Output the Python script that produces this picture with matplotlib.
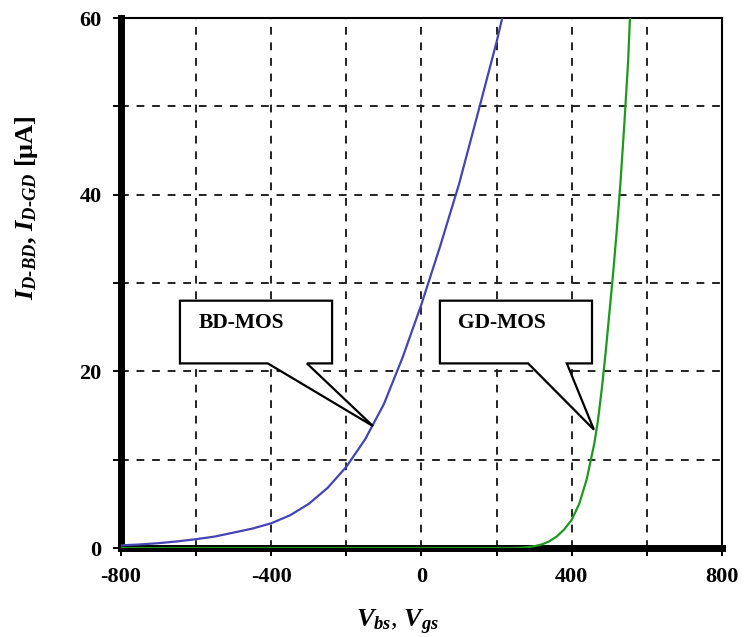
import matplotlib
matplotlib.use("Agg")
import matplotlib.pyplot as plt
from matplotlib.patches import Polygon

plt.rcParams['font.family'] = ['Liberation Serif', 'DejaVu Serif']
plt.rcParams['mathtext.fontset'] = 'custom'
plt.rcParams['mathtext.rm'] = 'Liberation Serif:bold'
plt.rcParams['mathtext.it'] = 'Liberation Serif:italic:bold'
plt.rcParams['mathtext.bf'] = 'Liberation Serif:bold'

# BD-MOS curve
bd_v = [-800, -750, -700, -650, -600, -550, -500, -450, -400, -350, -300, -250,
        -200, -150, -100, -50, 0, 50, 100, 150, 200, 215]
bd_i = [0.3, 0.4, 0.55, 0.75, 1.0, 1.3, 1.75, 2.2, 2.8, 3.7, 5.0, 6.8,
        9.2, 12.3, 16.3, 21.6, 27.6, 34.2, 41.2, 49.2, 57.3, 60.0]

# GD-MOS curve
gd_v = [-800, 240, 260, 280, 300, 320, 340, 360, 380, 400, 420, 440, 460, 470,
        480, 490, 500, 510, 520, 530, 540, 550, 555]
gd_i = [0.0, 0.0, 0.02, 0.08, 0.2, 0.4, 0.75, 1.3, 2.1, 3.2, 5.0, 7.8, 11.8, 14.5,
        18.0, 22.0, 26.5, 31.0, 36.0, 41.5, 48.0, 55.0, 60.0]

x_ticks = [-800, -600, -400, -200, 0, 200, 400, 600, 800]
x_labels = ['-800', '', '-400', '', '0', '', '400', '', '800']
y_ticks = [0, 10, 20, 30, 40, 50, 60]
y_labels = ['0', '', '20', '', '40', '', '60']

# callouts: label, box (x0, x1, y0, y1), wedge base x (left, right), tip (x, y)
callouts = [
    ('BD-MOS', (-643, -238, 20.9, 28.0), (-409, -305), (-129, 13.8)),
    ('GD-MOS', (49, 454, 20.9, 28.0), (284, 387), (459, 13.4)),
]

fig = plt.figure(figsize=(7.44, 6.37), dpi=100)
ax = fig.add_axes([0.1626, 0.1397, 0.8078, 0.832])

ax.plot(bd_v, bd_i, color='#4444b4', lw=1.6, zorder=3)
ax.plot(gd_v, gd_i, color='#1c9a1c', lw=1.6, zorder=3)

ax.set_xlim(-800, 800)
ax.set_ylim(0, 60)
ax.set_xticks(x_ticks)
ax.set_xticklabels(x_labels)
ax.set_yticks(y_ticks)
ax.set_yticklabels(y_labels)
ax.grid(True, color='#222222', linestyle=(0, (4, 4)), lw=1.4)
ax.set_axisbelow(True)

for lab in ax.get_xticklabels() + ax.get_yticklabels():
    lab.set_fontweight('bold')
    lab.set_fontsize(16)
ax.tick_params(axis='both', direction='out', length=6, width=1.4, color='black')
ax.tick_params(axis='x', pad=8)
ax.tick_params(axis='y', pad=8)

ax.spines['left'].set_linewidth(5)
ax.spines['bottom'].set_linewidth(5)
ax.spines['top'].set_linewidth(1.5)
ax.spines['right'].set_linewidth(1.5)

for text, (x0, x1, y0, y1), (wl, wr), (tx, ty) in callouts:
    pts = [(x0, y1), (x1, y1), (x1, y0), (wr, y0), (tx, ty), (wl, y0), (x0, y0)]
    ax.add_patch(Polygon(pts, closed=True, facecolor='white', edgecolor='black',
                         lw=1.6, zorder=4))
    ax.text(x0 + (x1 - x0) * 0.12, y1 - (y1 - y0) * 0.35, text, fontsize=15.5,
            fontweight='bold', ha='left', va='center', zorder=5)

ax.set_xlabel(r'$V_{bs}$, $V_{gs}$', fontsize=19, va='center')
ax.xaxis.set_label_coords(0.461, -0.14)
ax.set_ylabel(r'$I_{D\text{-}BD}$, $I_{D\text{-}GD}$ [μA]', fontsize=19,
              fontweight='bold', va='center')
ax.yaxis.set_label_coords(-0.158, 0.643)

fig.savefig('out.png', dpi=100)
